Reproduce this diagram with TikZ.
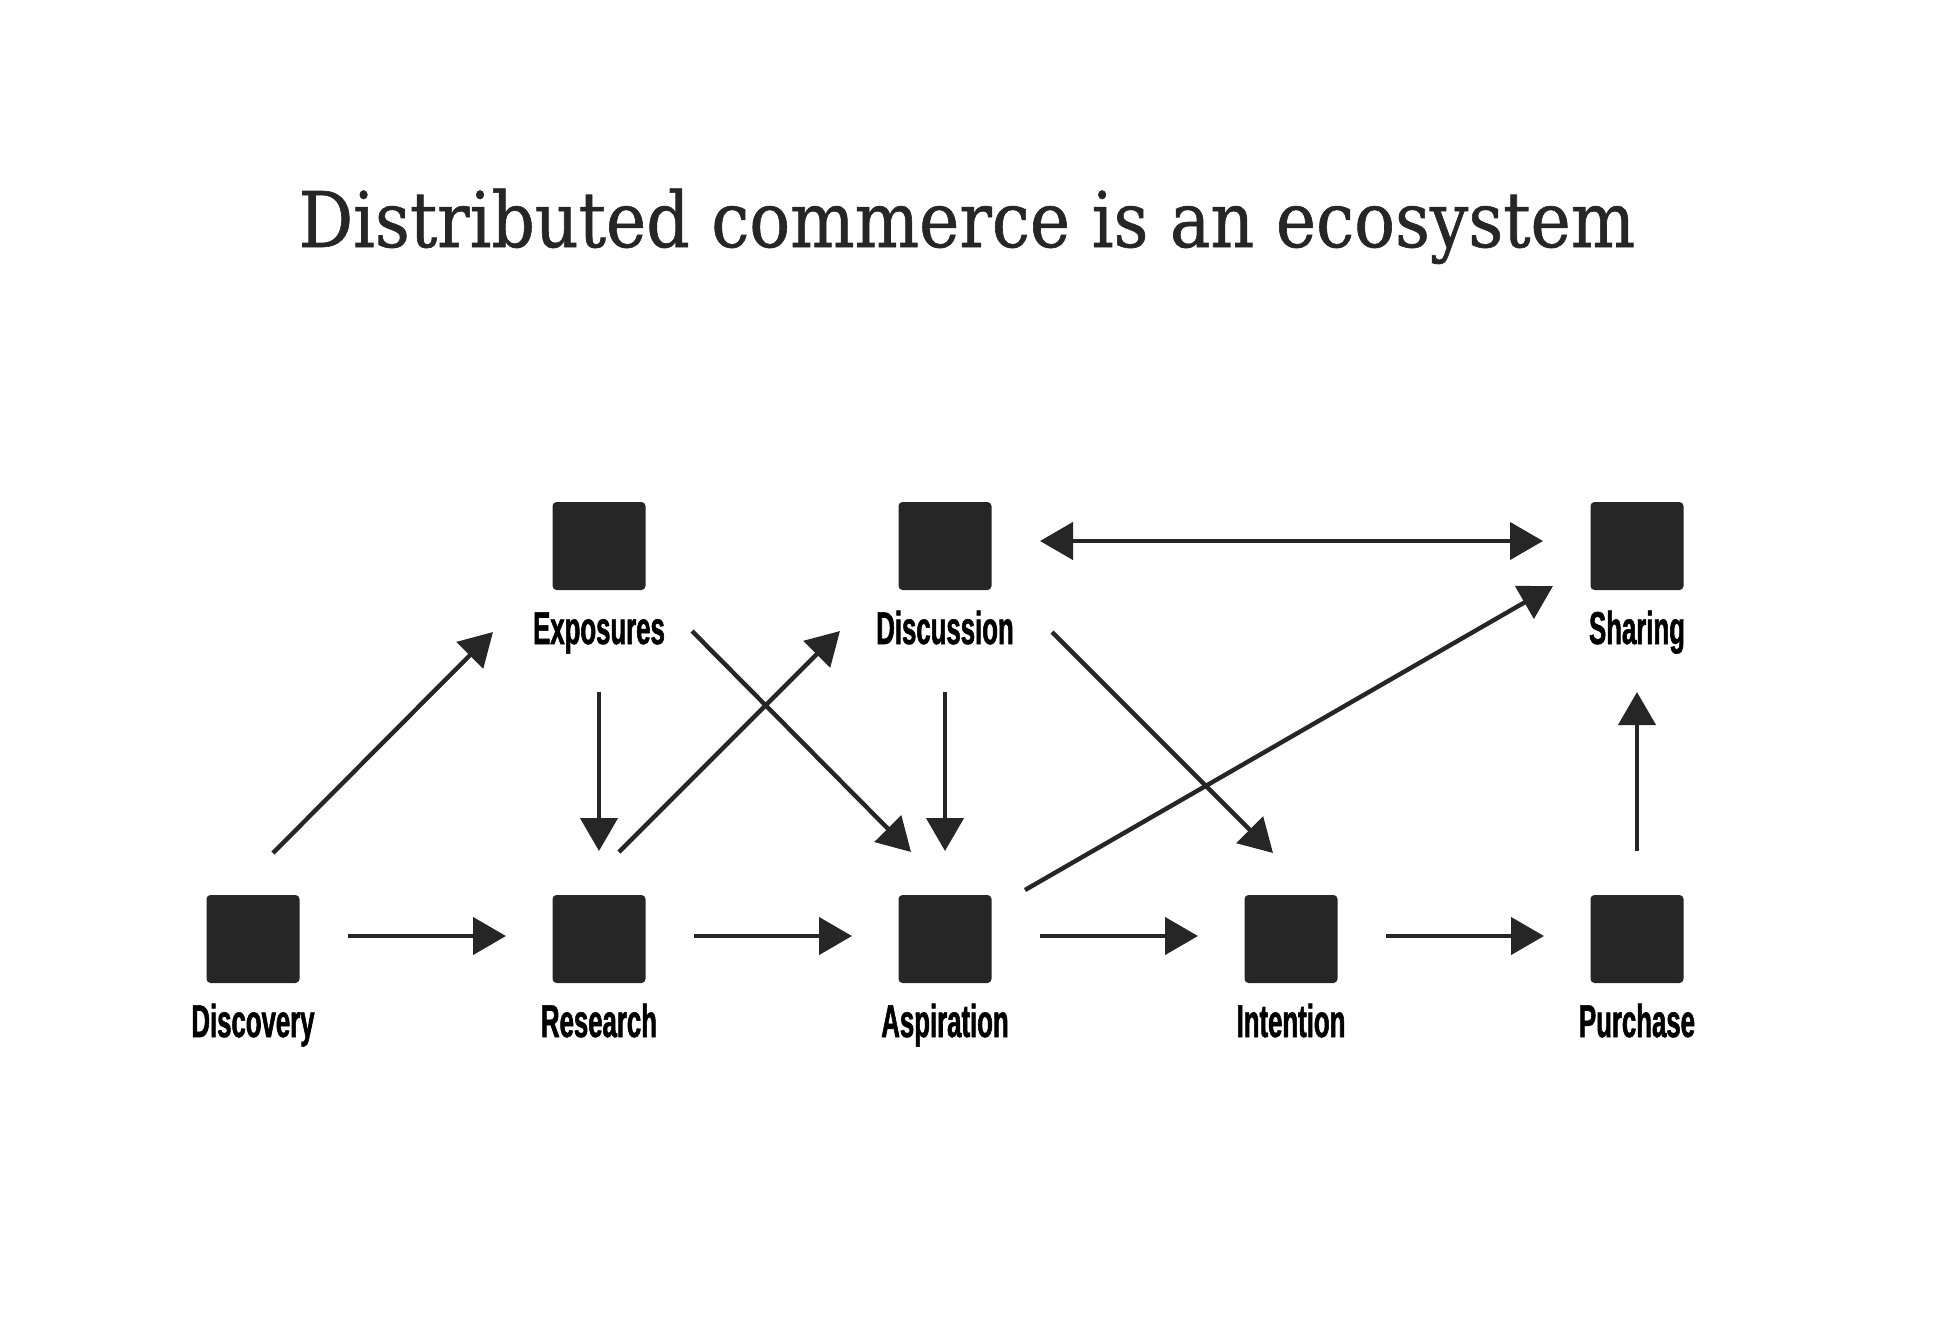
\documentclass[tikz,border=0pt]{standalone}
\usepackage{fontspec}
\usetikzlibrary{arrows.meta,calc}
\newfontfamily\labfont[FakeStretch=0.56,FakeBold=1.2]{Liberation Sans}
\newfontfamily\titlefont[FakeStretch=0.885,FakeBold=0.8]{DejaVu Serif}
\definecolor{ink}{HTML}{262626}
\begin{document}
\begin{tikzpicture}[x=0.5pt,y=-0.5pt,
  box/.style={fill=ink,draw=none,rounded corners=2pt,minimum width=46.5pt,minimum height=44pt,inner sep=0pt},
  lab/.style={font=\labfont\bfseries\fontsize{23pt}{26pt}\selectfont,text=black,anchor=base,inner sep=0pt},
  conn/.style={draw=ink,line width=2.2pt,-{Triangle[length=16.5pt,width=18.5pt]}},
  conn2/.style={draw=ink,line width=2.2pt,{Triangle[length=16.5pt,width=18.5pt]}-{Triangle[length=16.5pt,width=18.5pt]}}]
\path[use as bounding box] (0,0) rectangle (1934,1330);
\node[font=\titlefont\fontsize{38.4pt}{44pt}\selectfont,text=ink,anchor=base,inner sep=0pt] (title) at (967,247) {Distributed commerce is an ecosystem};
% squares
\node[box] (disc) at (253,939) {};
\node[box] (res) at (599,939) {};
\node[box] (asp) at (945,939) {};
\node[box] (int) at (1291,939) {};
\node[box] (pur) at (1637,939) {};
\node[box] (exp) at (599,546) {};
\node[box] (dis) at (945,546) {};
\node[box] (sha) at (1637,546) {};
% labels
\node[lab] (ldisc) at (253,1037) {Discovery};
\node[lab] (lres) at (599,1037) {Research};
\node[lab] (lasp) at (945,1037) {Aspiration};
\node[lab] (lint) at (1291,1037) {Intention};
\node[lab] (lpur) at (1637,1037) {Purchase};
\node[lab] (lexp) at (599,644) {Exposures};
\node[lab] (ldis) at (945,644) {Discussion};
\node[lab] (lsha) at (1637,644) {Sharing};
% horizontal
\draw[conn] ($(disc)+(95,-3)$) -- ($(res)+(-93,-3)$);
\draw[conn] ($(res)+(95,-3)$) -- ($(asp)+(-93,-3)$);
\draw[conn] ($(asp)+(95,-3)$) -- ($(int)+(-93,-3)$);
\draw[conn] ($(int)+(95,-3)$) -- ($(pur)+(-93,-3)$);
\draw[conn2] ($(dis)+(95,-5)$) -- ($(sha)+(-94,-5)$);
% vertical
\draw[conn] ($(exp)+(0,146)$) -- ($(res)+(0,-88)$);
\draw[conn] ($(dis)+(0,146)$) -- ($(asp)+(0,-88)$);
\draw[conn] ($(pur)+(0,-88)$) -- ($(sha)+(0,146)$);
% diagonals
\draw[conn] ($(disc)+(20,-86)$) -- ($(exp)+(-106,86)$);
\draw[conn] ($(res)+(20,-87)$) -- ($(dis)+(-105,85)$);
\draw[conn] ($(exp)+(93,85)$) -- ($(asp)+(-34,-87)$);
\draw[conn] ($(dis)+(107,86)$) -- ($(int)+(-18,-86)$);
\draw[conn] ($(asp)+(80,-49)$) -- ($(sha)+(-84,40)$);
\end{tikzpicture}
\end{document}
